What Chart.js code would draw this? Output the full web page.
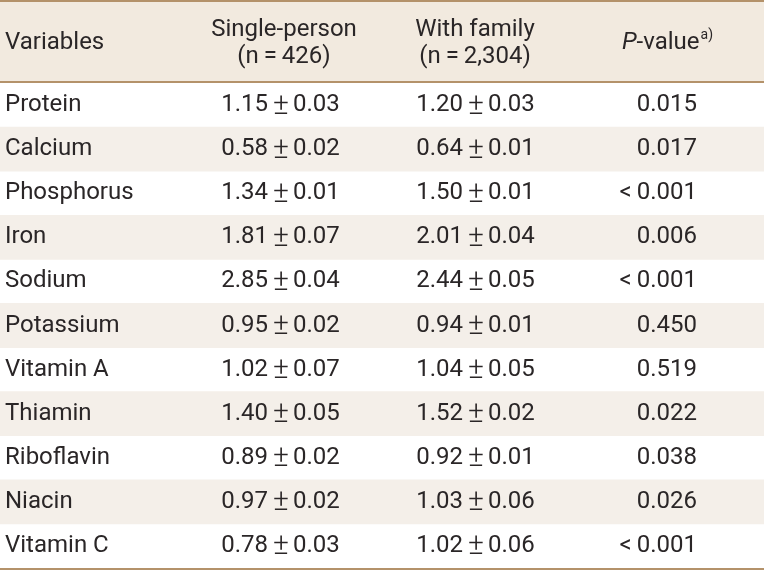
<!DOCTYPE html>
<html>
<head>
<meta charset="utf-8">
<script src="https://cdn.jsdelivr.net/npm/chart.js@4/dist/chart.umd.min.js"></script>
<style>
  body { margin: 0; background: #fff; }
  #wrap { width: 764px; height: 572px; position: relative; }
</style>
</head>
<body>
<div id="wrap"><canvas id="tableChart"></canvas></div>
<script>
// table contents
var variables = ["Protein", "Calcium", "Phosphorus", "Iron", "Sodium", "Potassium",
    "Vitamin A", "Thiamin", "Riboflavin", "Niacin", "Vitamin C"];
var singleMean = ["1.15", "0.58", "1.34", "1.81", "2.85", "0.95", "1.02", "1.40", "0.89", "0.97", "0.78"];
var singleSE   = ["0.03", "0.02", "0.01", "0.07", "0.04", "0.02", "0.07", "0.05", "0.02", "0.02", "0.03"];
var familyMean = ["1.20", "0.64", "1.50", "2.01", "2.44", "0.94", "1.04", "1.52", "0.92", "1.03", "1.02"];
var familySE   = ["0.03", "0.01", "0.01", "0.04", "0.05", "0.01", "0.05", "0.02", "0.01", "0.06", "0.06"];
var pValues    = ["0.015", "0.017", "<\u20090.001", "0.006", "<\u20090.001", "0.450",
    "0.519", "0.022", "0.038", "0.026", "<\u20090.001"];
var headers = {
    variables: "Variables",
    single: ["Single-person", "(n\u2009=\u2009426)"],
    family: ["With family", "(n\u2009=\u20092,304)"]
};

var FONT = "Roboto, 'Liberation Sans', sans-serif";
var TEXT = "#2a2627";
var LINE = "#b4926a";
var HEAD_BG = "#f2eadf";
var BAND = "#f4efe9";
var colX = { name: 5, single: 281, family: 476, p: 697, singleHead: 284, familyHead: 475 };

var tablePlugin = {
    id: "tableText",
    beforeDatasetsDraw: function (chart) {
        var ctx = chart.ctx, area = chart.chartArea;
        ctx.save();
        ctx.fillStyle = HEAD_BG;
        ctx.fillRect(0, 0, chart.width, area.top);
        ctx.restore();
    },
    afterDatasetsDraw: function (chart) {
        var ctx = chart.ctx, area = chart.chartArea;
        var xs = chart.scales.x, ys = chart.scales.y;
        var fReg = "24px " + FONT, fItal = "italic 24px " + FONT, fSup = "14px " + FONT;
        var fPm = "300 30px " + FONT;
        ctx.save();
        ctx.fillStyle = TEXT;
        ctx.textBaseline = "middle";
        ctx.font = fReg;

        // header
        var h1 = 30, h2 = 57, hm = 43;
        ctx.textAlign = "left";
        ctx.fillText(headers.variables, xs.getPixelForValue(colX.name), hm);
        ctx.textAlign = "center";
        ctx.fillText(headers.single[0], xs.getPixelForValue(colX.singleHead), h1);
        ctx.fillText(headers.single[1], xs.getPixelForValue(colX.singleHead), h2);
        ctx.fillText(headers.family[0], xs.getPixelForValue(colX.familyHead), h1);
        ctx.fillText(headers.family[1], xs.getPixelForValue(colX.familyHead), h2);

        // P-value with italic P and superscript a)
        ctx.textAlign = "left";
        ctx.font = fItal; var wP = ctx.measureText("P").width;
        ctx.font = fReg; var wV = ctx.measureText("-value").width;
        ctx.font = fSup; var wS = ctx.measureText("a)").width;
        var start = xs.getPixelForValue(colX.p) + 16 - (wP + wV + wS + 1);
        ctx.font = fItal; ctx.fillText("P", start, hm);
        ctx.font = fReg; ctx.fillText("-value", start + wP, hm);
        ctx.font = fSup; ctx.fillText("a)", start + wP + wV + 1, hm - 8);

        // mean ± SE, split around the ± sign
        function meanSE(mean, se, cx, y) {
            ctx.font = fReg;
            ctx.textAlign = "right";
            ctx.fillText(mean, cx - 13, y);
            ctx.textAlign = "left";
            ctx.fillText(se, cx + 12, y);
            ctx.font = fPm;
            ctx.textAlign = "center";
            ctx.fillText("\u00b1", cx, y + 1);
        }

        // body rows
        variables.forEach(function (name, i) {
            var y = ys.getPixelForValue(i);
            ctx.font = fReg;
            ctx.textAlign = "left";
            ctx.fillText(name, xs.getPixelForValue(colX.name), y);
            ctx.textAlign = "right";
            ctx.fillText(pValues[i], xs.getPixelForValue(colX.p), y);
            meanSE(singleMean[i], singleSE[i], xs.getPixelForValue(colX.single), y);
            meanSE(familyMean[i], familySE[i], xs.getPixelForValue(colX.family), y);
        });

        // rules
        ctx.fillStyle = LINE;
        ctx.fillRect(0, 0, chart.width, 2);
        ctx.fillRect(0, area.top - 2, chart.width, 2);
        ctx.fillRect(0, area.bottom, chart.width, 2);
        ctx.restore();
    }
};

new Chart(document.getElementById("tableChart"), {
    type: "bar",
    data: {
        labels: variables,
        datasets: [{
            // alternating row shading
            data: variables.map(function (v, i) { return i % 2 ? [0, 764] : null; }),
            backgroundColor: BAND,
            borderWidth: 0,
            barPercentage: 1,
            categoryPercentage: 1
        }]
    },
    options: {
        indexAxis: "y",
        responsive: true,
        maintainAspectRatio: false,
        animation: false,
        layout: { padding: { top: 83, bottom: 4, left: 0, right: 0 } },
        plugins: { legend: { display: false }, tooltip: { enabled: false } },
        scales: {
            x: { type: "linear", min: 0, max: 764, display: false },
            y: { type: "category", offset: true, display: false }
        }
    },
    plugins: [tablePlugin]
});
</script>
</body>
</html>
